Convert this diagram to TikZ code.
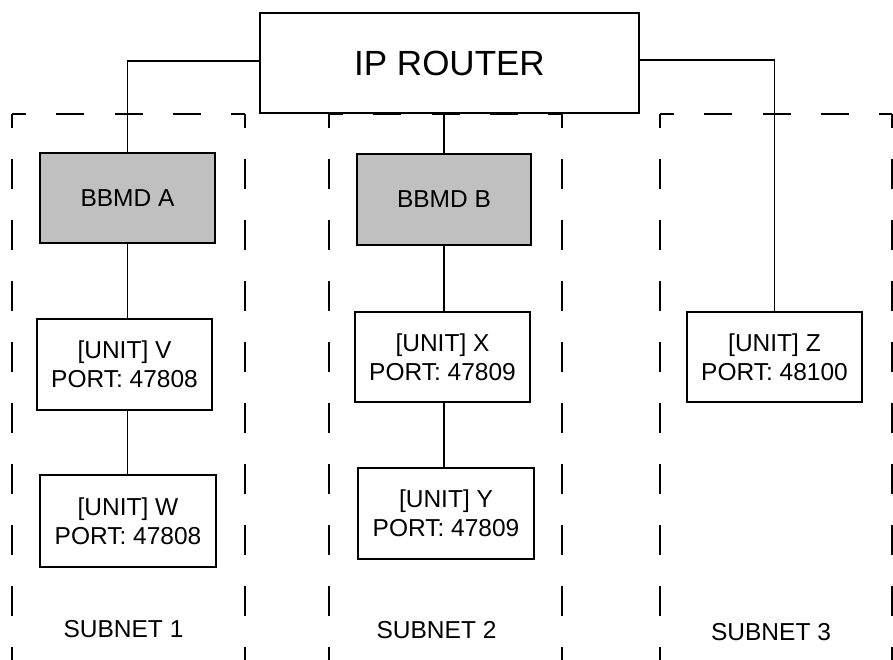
\documentclass[tikz,border=0pt]{standalone}
\usepackage{fontspec}
\setmainfont{Liberation Sans}
\definecolor{bbmdgray}{RGB}{192,192,192}
\begin{document}
\begin{tikzpicture}[x=1pt,y=-1pt,
  box/.style={draw=black, line width=1.5pt, fill=white, inner sep=0pt, align=center,
    font=\fontsize{24.5}{29}\selectfont},
  bbmd/.style={box, fill=bbmdgray},
  lbl/.style={inner sep=0pt, font=\fontsize{24.5}{29}\selectfont},
  conn/.style={draw=black, line width=1.5pt},
  dashtop/.style={draw=black, line width=1.5pt, dash pattern=on 28pt off 30.25pt, dash phase=14pt},
  dashside/.style={draw=black, line width=1.5pt, dash pattern=on 30pt off 31pt, dash phase=16pt}]
\useasboundingbox (0,0) rectangle (893,660);
% subnet frames
\draw[dashtop] (12,114) -- (245,114);
\draw[dashside] (12,114) -- (12,670);
\draw[dashside] (245,114) -- (245,670);
\draw[dashtop] (329,114) -- (562,114);
\draw[dashside] (329,114) -- (329,670);
\draw[dashside] (562,114) -- (562,670);
\draw[dashtop] (660,114) -- (892,114);
\draw[dashside] (660,114) -- (660,670);
\draw[dashside] (892,114) -- (892,670);
% nodes
\node[box, minimum width=379pt, minimum height=100pt, font=\fontsize{35}{42}\selectfont] (router) at (449.5,63) {IP ROUTER};
\node[bbmd, minimum width=175pt, minimum height=90pt] (bbmdA) at (127.5,198) {BBMD A};
\node[bbmd, minimum width=174pt, minimum height=91pt] (bbmdB) at (444,199.5) {BBMD B};
\node[box, minimum width=175pt, minimum height=91pt] (V) at (124.5,364.5) {[UNIT] V\\PORT: 47808};
\node[box, minimum width=176pt, minimum height=92pt] (W) at (128,521) {[UNIT] W\\PORT: 47808};
\node[box, minimum width=175pt, minimum height=90pt] (X) at (442.5,357) {[UNIT] X\\PORT: 47809};
\node[box, minimum width=176pt, minimum height=91pt] (Y) at (446,513.5) {[UNIT] Y\\PORT: 47809};
\node[box, minimum width=175pt, minimum height=90pt] (Z) at (774.5,357) {[UNIT] Z\\PORT: 48100};
\node[lbl] (s1) at (123.5,629) {SUBNET 1};
\node[lbl] (s2) at (436.5,630) {SUBNET 2};
\node[lbl] (s3) at (771,632) {SUBNET 3};
% connectors
\draw[conn] ([yshift=2pt]router.west) -| (bbmdA.north);
\draw[conn] (bbmdA.south) -- (bbmdA.south |- V.north);
\draw[conn] (bbmdA.south |- V.south) -- (bbmdA.south |- W.north);
\draw[conn] (bbmdB.north |- router.south) -- (bbmdB.north);
\draw[conn] (bbmdB.south) -- (bbmdB.south |- X.north);
\draw[conn] (bbmdB.south |- X.south) -- (bbmdB.south |- Y.north);
\draw[conn] ([yshift=3pt]router.east) -| (Z.north);
\end{tikzpicture}
\end{document}
